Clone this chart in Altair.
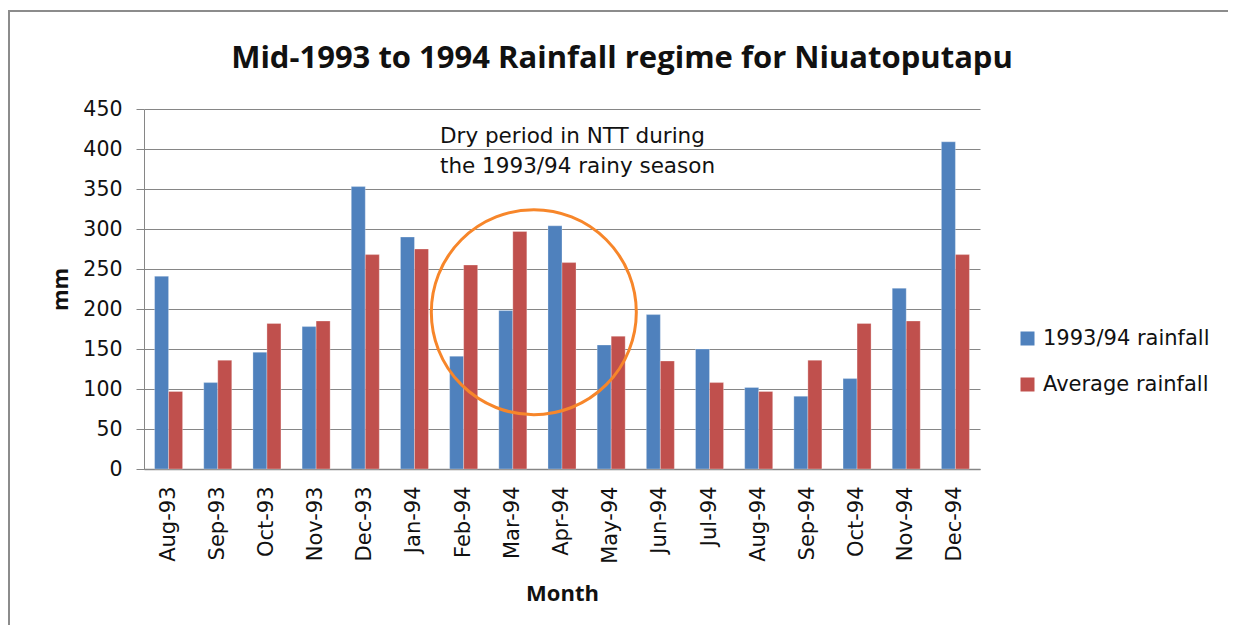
import altair as alt
import pandas as pd

months = ["Aug-93", "Sep-93", "Oct-93", "Nov-93", "Dec-93", "Jan-94", "Feb-94",
          "Mar-94", "Apr-94", "May-94", "Jun-94", "Jul-94", "Aug-94", "Sep-94",
          "Oct-94", "Nov-94", "Dec-94"]
rain_1993_94 = [241, 108, 146, 178, 353, 290, 141, 198, 304, 155, 193, 150, 102, 91, 113, 226, 409]
rain_average = [97, 136, 182, 185, 268, 275, 255, 297, 258, 166, 135, 108, 97, 136, 182, 185, 268]
series_names = ["1993/94 rainfall", "Average rainfall"]
series_colors = ["#4F81BD", "#C0504D"]
y_ticks = [0, 50, 100, 150, 200, 250, 300, 350, 400, 450]

annotation_lines = ["Dry period in NTT during", "the 1993/94 rainy season"]
circle_month = ["Mar-94"]
circle_value = [196]

FONT = "DejaVu Sans"
BOLD_FONT = "Open Sans"

rows = []
for m, a, b in zip(months, rain_1993_94, rain_average):
    rows.append({"Month": m, "Series": series_names[0], "mm": a})
    rows.append({"Month": m, "Series": series_names[1], "mm": b})
df = pd.DataFrame(rows)

W, H = 836, 360

x_scale = alt.Scale(domain=months, paddingInner=0.43, paddingOuter=0.215)
y_scale = alt.Scale(domain=[0, 450], nice=False)

x_axis = alt.Axis(title="Month", labelAngle=-90, labelAlign="right",
                  labelBaseline="middle", labelFont=FONT, labelFontSize=21,
                  labelColor="#111111", labelPadding=17, ticks=False, tickSize=0,
                  domainColor="#868686", domainWidth=1.5, grid=False,
                  titleFont=BOLD_FONT, titleFontSize=22, titleFontWeight="bold",
                  titleColor="#111111", titleY=124, titleBaseline="middle")
y_axis = alt.Axis(title="mm", values=y_ticks, labelFont=FONT, labelFontSize=20.5,
                  labelColor="#111111", labelPadding=14, tickSize=8, labelOverlap=False,
                  tickColor="#868686", domainColor="#868686", grid=True,
                  gridColor="#868686", gridWidth=1, titleFont=BOLD_FONT,
                  titleFontSize=22, titleFontWeight="bold", titleColor="#111111",
                  titleX=-84, titleY=180, titleAngle=-90, titleBaseline="middle",
                  titleAlign="center")

bars = alt.Chart(df).mark_bar(stroke="white", strokeWidth=0.3).encode(
    x=alt.X("Month:N", sort=months, scale=x_scale, axis=x_axis),
    xOffset=alt.XOffset("Series:N", sort=series_names),
    y=alt.Y("mm:Q", scale=y_scale, axis=y_axis),
    color=alt.Color("Series:N", sort=series_names,
                    scale=alt.Scale(domain=series_names, range=series_colors),
                    legend=alt.Legend(title=None, orient="none", legendX=873, legendY=219,
                                      symbolType="square", symbolSize=196,
                                      symbolStrokeWidth=0, labelFont=FONT,
                                      labelFontSize=21, labelColor="#111111",
                                      labelOffset=5, rowPadding=24, padding=0,
                                      labelLimit=400)),
)

circle_df = pd.DataFrame({"Month": circle_month, "mm": circle_value})
circle = alt.Chart(circle_df).mark_point(
    shape="circle", filled=False, size=42025, strokeWidth=3,
    color="#F7862A", opacity=1, xOffset=21
).encode(
    x=alt.X("Month:N", sort=months, scale=x_scale, axis=x_axis),
    y=alt.Y("mm:Q", scale=y_scale, axis=y_axis),
)

note = alt.Chart(alt.Data(values=[{"t": 1}])).mark_text(
    text=annotation_lines, align="left", baseline="middle", font=FONT,
    fontSize=21.5, color="#111111", lineHeight=30
).encode(x=alt.value(296), y=alt.value(28))

frame = alt.Chart(alt.Data(values=[{"t": 1}])).mark_rect(
    fillOpacity=0, stroke="#8C8C8C", strokeWidth=2
).encode(x=alt.value(-135), x2=alt.value(W + 400), y=alt.value(-98), y2=alt.value(H + 400))

chart = alt.layer(frame, bars, circle, note).properties(
    width=W, height=H,
    title=alt.TitleParams(
        "Mid-1993 to 1994 Rainfall regime for Niuatoputapu",
        font=BOLD_FONT, fontSize=31, fontWeight="bold", color="#111111",
        anchor="middle", frame="group", dx=60, baseline="bottom", offset=-96
    ),
    autosize=alt.AutoSizeParams(type="none"),
    padding={"left": 136, "top": 101, "right": 248, "bottom": 156},
).configure_view(strokeWidth=0)

chart.save("out.html", embed_options={"renderer": "svg", "actions": False})
